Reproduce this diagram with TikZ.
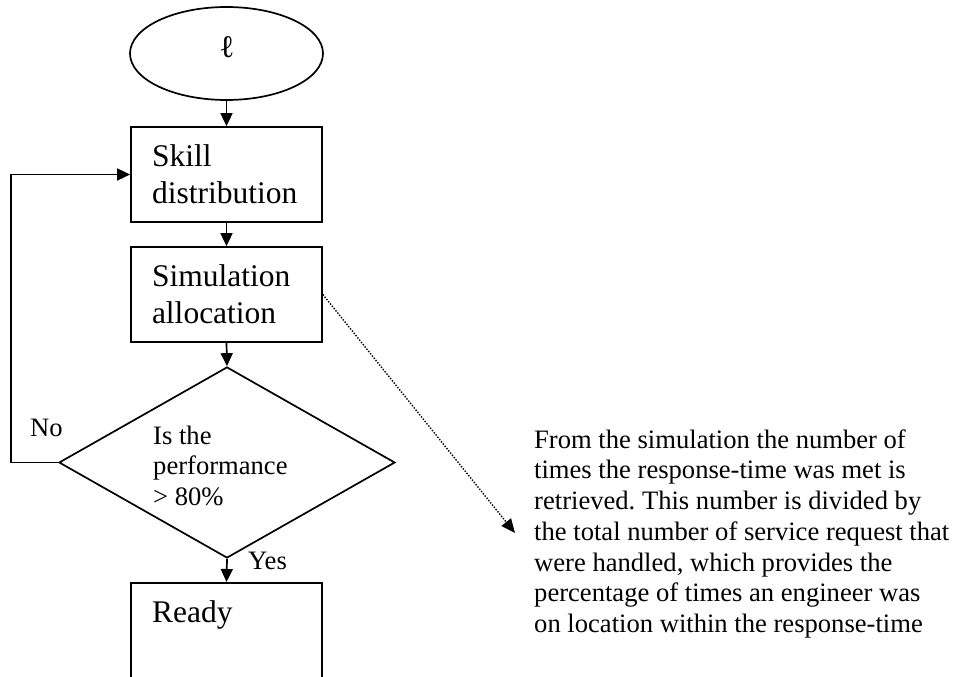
\documentclass[tikz,border=0pt]{standalone}
\usepackage{fontspec}
\setmainfont{Liberation Serif}
\usetikzlibrary{arrows.meta,shapes.geometric}
\frenchspacing

\tikzset{
  outline/.style={draw, line width=1.7pt},
  flow/.style={line width=1.7pt, -{Triangle[length=13pt,width=12pt]}},
  hint/.style={line width=1.4pt, dash pattern=on 1.4pt off 1.5pt,
    -{Triangle[length=14pt,width=12pt]}},
  stepbox/.style={outline, rectangle, minimum width=191pt, minimum height=95pt,
    inner xsep=21pt, inner ysep=0pt, text width=149pt, align=left,
    font=\fontsize{31.5}{37}\selectfont},
  bigtext/.style={inner sep=0pt, font=\fontsize{31.5}{37}\selectfont},
  labeltext/.style={inner sep=0pt, align=left, font=\fontsize{26.6}{30.7}\selectfont},
}

\begin{document}
\begin{tikzpicture}[x=1pt, y=-1pt]
  \clip (0,0) rectangle (954,677);

  % start terminal
  \node[outline, ellipse, minimum width=193pt, minimum height=93pt, inner sep=0pt]
    (start) at (226.5,53.5) {};
  \node[bigtext, anchor=base] (ell) at (227,58) {ℓ};

  % process steps
  \node[stepbox] (skill) at (226.5,174.5) {Skill\\distribution};
  \node[stepbox] (sim) at (226.5,294.5) {Simulation\\allocation};

  % decision
  \node[outline, diamond, minimum width=336pt, minimum height=191pt, inner sep=0pt]
    (perf) at (227,462.5) {};
  \node[labeltext, anchor=west] (perftxt) at (153,465.7)
    {Is the\\performance\\> 80\%};

  % end box, running off the lower edge
  \node[outline, rectangle, minimum width=191pt, minimum height=140pt, inner sep=0pt,
    anchor=north] (ready) at (226.5,582) {};
  \node[bigtext, anchor=base west] (readytxt) at (152,622) {Ready};

  % branch labels
  \node[labeltext, anchor=base west] (no) at (30,436) {No};
  \node[labeltext, anchor=base west] (yes) at (248,569) {Yes};

  % explanation of the performance measure
  \node[labeltext, anchor=west] (note) at (534,533.8)
    {From the simulation the number of\\
     times the response-time was met is\\
     retrieved. This number is divided by\\
     the total number of service request that\\
     were handled, which provides the\\
     percentage of times an engineer was\\
     on location within the response-time};

  % connectors
  \draw[flow] (start.south) -- (skill.north);
  \draw[flow] (skill.south) -- (sim.north);
  \draw[flow] (sim.south) -- (perf.north);
  \draw[flow] (perf.south) -- (ready.north);

  \coordinate (loopcorner) at (11,462.5);
  \draw[flow] (perf.west) -- (loopcorner) |- (skill.west);

  \coordinate (notetip) at (515,533);
  \draw[hint] (sim.east) -- (notetip);
\end{tikzpicture}
\end{document}
